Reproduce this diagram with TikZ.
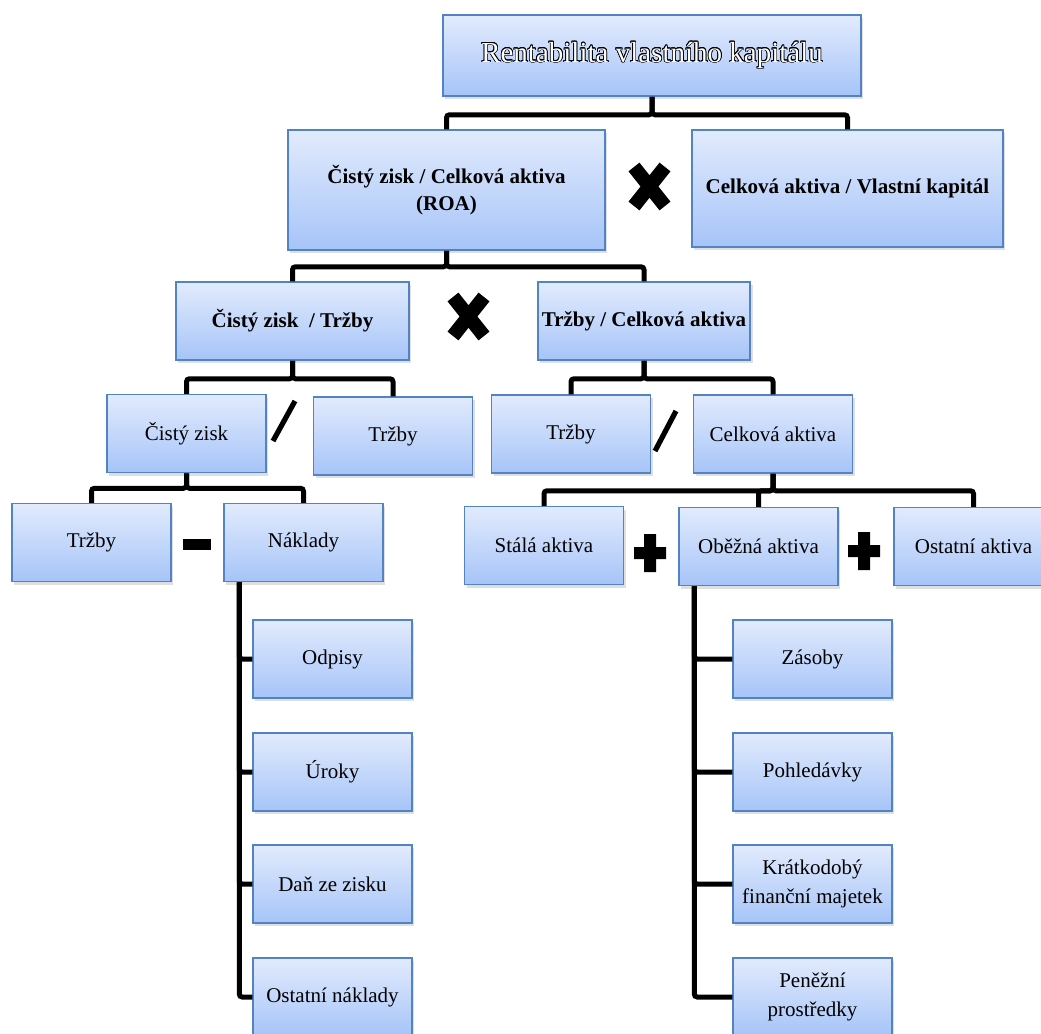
\documentclass[tikz,border=0pt]{standalone}
\usepackage{fontspec}
\setmainfont{Liberation Serif}
\usepackage{xcolor}
\usepackage{contour}
\usepackage{tikz}
\usetikzlibrary{shadows}

\definecolor{boxtop}{HTML}{E2EBFD}
\definecolor{boxbot}{HTML}{A6C4F8}
\definecolor{boxline}{HTML}{5283C2}
\contourlength{0.35pt}

\tikzset{
  box/.style={draw=boxline, line width=0.75pt, top color=boxtop, bottom color=boxbot,
    drop shadow={shadow xshift=1.2pt, shadow yshift=-1.6pt, opacity=0.25},
    inner sep=2pt, align=center, font=\fontsize{10.5}{14.5}\selectfont},
  cell/.style={box, minimum width=79.5pt, minimum height=39pt},
  boldbox/.style={box, font=\fontsize{10.5}{13.5}\selectfont\bfseries},
  link/.style={line width=2.5pt, rounded corners=1.5pt},
  sign/.style={line width=7pt},
}

\begin{document}
\begin{tikzpicture}[x=0.5pt,y=-0.5pt]
  \useasboundingbox (0,0) rectangle (1041,1034);
  % level 0
  \node[box,minimum width=209pt,minimum height=40.5pt,font=\fontsize{14.5}{17}\selectfont] (root) at (652,55.5) {\contour{black}{\textcolor{white}{Rentabilita vlastního kapitálu}}};
  % level 1
  \node[boldbox,minimum width=158.5pt,minimum height=60pt] (roa) at (446.5,190) {Čistý zisk / Celková aktiva\\(ROA)};
  \node[boldbox,minimum width=155.5pt,minimum height=58.5pt] (lev) at (847.5,188.5) {Celková aktiva / Vlastní kapitál};
  % level 2
  \node[boldbox,minimum width=116.5pt,minimum height=39pt] (npm) at (292.5,321) {Čistý zisk~ / Tržby};
  \node[boldbox,minimum width=106pt,minimum height=39pt] (obrat) at (644,321) {Tržby / Celková aktiva};
  % level 3
  \node[cell] (zisk) at (186.5,433.5) {Čistý zisk};
  \node[cell] (trzbyA) at (393,436) {Tržby};
  \node[cell] (trzbyB) at (571,434) {Tržby};
  \node[cell] (aktiva) at (773,434) {Celková aktiva};
  % level 4
  \node[cell] (trzbyC) at (91.5,542.5) {Tržby};
  \node[cell] (naklady) at (303.5,542.5) {Náklady};
  \node[cell] (stala) at (544,545.5) {Stálá aktiva};
  \node[cell] (obezna) at (758.5,546.5) {Oběžná aktiva};
  \node[cell] (ostatni) at (973.5,546.5) {Ostatní aktiva};
  % costs
  \node[cell] (odpisy) at (332.5,659) {Odpisy};
  \node[cell] (uroky) at (332.5,772) {Úroky};
  \node[cell] (dan) at (332.5,884) {Daň ze zisku};
  \node[cell] (ostnakl) at (332.5,997) {Ostatní náklady};
  % current assets
  \node[cell] (zasoby) at (812.5,659) {Zásoby};
  \node[cell] (pohled) at (812.5,772) {Pohledávky};
  \node[cell] (kfm) at (812.5,884) {Krátkodobý\\finanční majetek};
  \node[cell] (penize) at (812.5,997) {Peněžní\\prostředky};

  % tree links
  \draw[link] (root.south) -- ++(0,18) -| (roa.north);
  \draw[link] (root.south) -- ++(0,18) -| (lev.north);
  \draw[link] (roa.south) -- ++(0,16) -| (npm.north);
  \draw[link] (roa.south) -- ++(0,16) -| (obrat.north);
  \draw[link] (npm.south) -- ++(0,18) -| (zisk.north);
  \draw[link] (npm.south) -- ++(0,18) -| (trzbyA.north);
  \draw[link] (obrat.south) -- ++(0,18) -| (trzbyB.north);
  \draw[link] (obrat.south) -- ++(0,18) -| (aktiva.north);
  \draw[link] (zisk.south) -- ++(0,15) -| (trzbyC.north);
  \draw[link] (zisk.south) -- ++(0,15) -| (naklady.north);
  \foreach \c in {stala,obezna,ostatni}
    \draw[link] (aktiva.south) -- ++(0,17) -| (\c.north);
  \foreach \c in {odpisy,uroky,dan,ostnakl}
    \draw[link] ([xshift=8pt]naklady.south west) |- (\c.west);
  \foreach \c in {zasoby,pohled,kfm,penize}
    \draw[link] ([xshift=8pt]obezna.south west) |- (\c.west);

  % operators
  \draw[sign] (634,167) -- (665,206) (634,206) -- (665,167);
  \draw[sign] (453,297) -- (484,336) (453,336) -- (484,297);
  \draw[line width=2.6pt] (273,441) -- (295,401);
  \draw[line width=2.6pt] (655,451) -- (676,411);
  \fill (183,539) rectangle (211,550);
  \fill (644,534) rectangle (656,572) (634,547) rectangle (666,559);
  \fill (858,532) rectangle (870,570) (848,545) rectangle (880,557);
\end{tikzpicture}
\end{document}
